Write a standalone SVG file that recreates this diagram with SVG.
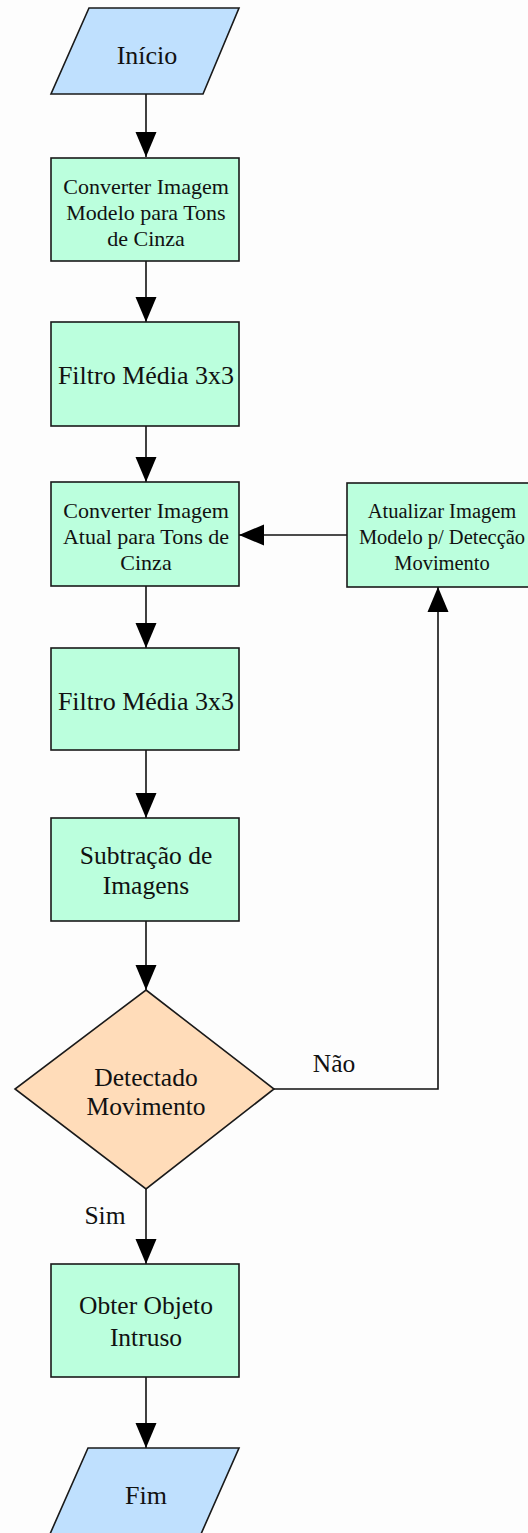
<svg xmlns="http://www.w3.org/2000/svg" width="528" height="1533" viewBox="0 0 528 1533">
<style>
.io{fill:#bfe0fe;stroke:#1a1a1a;stroke-width:1.6}
.proc{fill:#bbffdd;stroke:#1a1a1a;stroke-width:1.6}
.dec{fill:#ffdcb9;stroke:#1a1a1a;stroke-width:1.6}
.edge{fill:none;stroke:#111;stroke-width:1.6}
text{font-family:"Liberation Serif","Times New Roman",serif;fill:#111;text-anchor:middle}
.big{font-size:26px}
.sm{font-size:22px}
.xs{font-size:20.5px}
.md{font-size:25.5px}
</style>
<defs>
<marker id="arr" markerUnits="userSpaceOnUse" markerWidth="26" markerHeight="22" refX="25" refY="10.5" orient="auto" viewBox="0 0 26 21">
<polygon points="0,0 25,10.5 0,21" fill="#000"/>
</marker>
</defs>
<rect width="528" height="1533" fill="#fdfdfd"/>
<g id="connectors">
<line class="edge" x1="146" y1="94" x2="146" y2="157" marker-end="url(#arr)"/>
<line class="edge" x1="146" y1="261" x2="146" y2="322" marker-end="url(#arr)"/>
<line class="edge" x1="146" y1="426" x2="146" y2="482" marker-end="url(#arr)"/>
<line class="edge" x1="146" y1="586" x2="146" y2="648" marker-end="url(#arr)"/>
<line class="edge" x1="146" y1="750" x2="146" y2="818" marker-end="url(#arr)"/>
<line class="edge" x1="146" y1="921" x2="146" y2="990" marker-end="url(#arr)"/>
<line class="edge" x1="146" y1="1189" x2="146" y2="1264" marker-end="url(#arr)"/>
<line class="edge" x1="146" y1="1377" x2="146" y2="1448" marker-end="url(#arr)"/>
<polyline class="edge" points="274,1089 438,1089 438,587" marker-end="url(#arr)"/>
<line class="edge" x1="347" y1="535" x2="239" y2="535" marker-end="url(#arr)"/>
<text class="md" x="334" y="1072">Não</text>
<text class="md" x="105" y="1224">Sim</text>
</g>
<g id="inicio">
<polygon class="io" points="89,8 239,8 203,94 51,94"/>
<text class="big" x="147" y="64">Início</text>
</g>
<g id="converter-modelo">
<rect class="proc" x="51" y="158" width="188" height="103"/>
<text class="sm" x="146" y="194">Converter Imagem</text>
<text class="sm" x="146" y="220">Modelo para Tons</text>
<text class="sm" x="146" y="246">de Cinza</text>
</g>
<g id="filtro-1">
<rect class="proc" x="51" y="322" width="188" height="104"/>
<text class="big" x="146" y="384">Filtro Média 3x3</text>
</g>
<g id="converter-atual">
<rect class="proc" x="51" y="482" width="188" height="104"/>
<text class="sm" x="146" y="518">Converter Imagem</text>
<text class="sm" x="146" y="544">Atual  para Tons de</text>
<text class="sm" x="146" y="570">Cinza</text>
</g>
<g id="atualizar">
<rect class="proc" x="347" y="483" width="190" height="104"/>
<text class="xs" x="442" y="518">Atualizar Imagem</text>
<text class="xs" x="442" y="544">Modelo p/ Detecção</text>
<text class="xs" x="442" y="570">Movimento</text>
</g>
<g id="filtro-2">
<rect class="proc" x="51" y="648" width="188" height="102"/>
<text class="big" x="146" y="710">Filtro Média 3x3</text>
</g>
<g id="subtracao">
<rect class="proc" x="51" y="818" width="188" height="103"/>
<text class="md" x="146" y="864">Subtração de</text>
<text class="md" x="146" y="894">Imagens</text>
</g>
<g id="detectado">
<polygon class="dec" points="146,990 274,1089 146,1189 15,1089"/>
<text class="md" x="146" y="1086">Detectado</text>
<text class="md" x="146" y="1115">Movimento</text>
</g>
<g id="obter">
<rect class="proc" x="51" y="1264" width="188" height="113"/>
<text class="md" x="146" y="1314">Obter Objeto</text>
<text class="md" x="146" y="1346">Intruso</text>
</g>
<g id="fim">
<polygon class="io" points="88,1448 239,1448 201,1534 50,1534"/>
<text class="big" x="146" y="1504">Fim</text>
</g>
</svg>
